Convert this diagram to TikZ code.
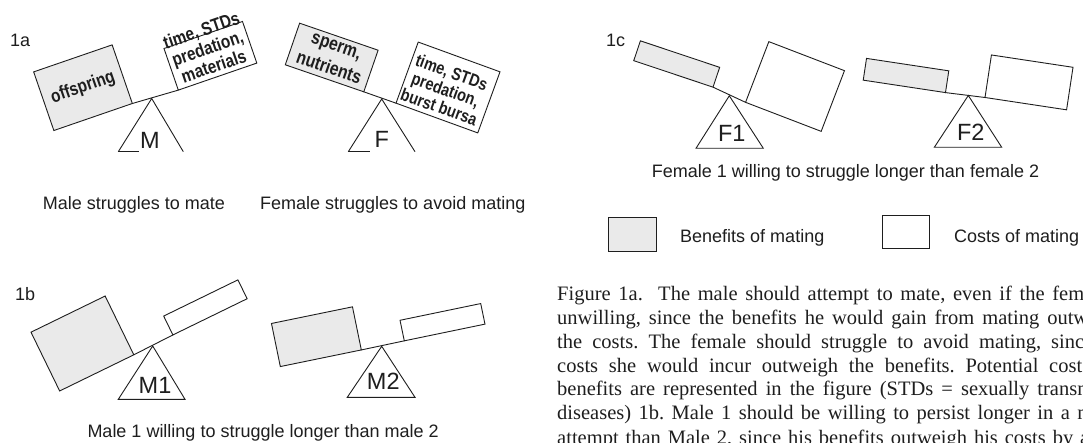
\documentclass[tikz,border=0pt]{standalone}
\usepackage{fontspec}
\setmainfont{Liberation Sans}
\newfontfamily\capfont{Liberation Serif}
\newfontfamily\condfont[FakeStretch=0.83]{Liberation Sans Bold}
\definecolor{ink}{HTML}{1E1E1E}
\definecolor{benefit}{HTML}{EAEAEA}
\frenchspacing
\begin{document}
\begin{tikzpicture}[x=1pt,y=-1pt,
  line join=miter,
  boxb/.style={draw=ink,fill=benefit,line width=0.9pt,inner sep=0pt,outer sep=0pt},
  boxc/.style={draw=ink,fill=white,line width=0.9pt,inner sep=0pt,outer sep=0pt},
  beam/.style={draw=ink,line width=0.9pt},
  lbl/.style={font=\fontsize{23.5}{24}\selectfont,inner sep=0pt,text=ink},
  figtag/.style={font=\fontsize{18}{20}\selectfont,inner sep=0pt,anchor=base west,text=ink},
  capt/.style={font=\fontsize{18}{20}\selectfont,inner sep=0pt,anchor=base west,text=ink},
  inbox/.style={font=\condfont\fontsize{18.5}{19}\selectfont,align=center,inner sep=0pt,text=ink},
  bodyline/.style={font=\capfont\frenchspacing\fontsize{20.5}{23.65}\selectfont,inner sep=0pt,anchor=base west,text=ink}
]
\useasboundingbox (0,0) rectangle (1083,443);
\fill[white] (0,0) rectangle (1083,443);
\clip (0,0) rectangle (1083,443);

% ---------- 1a : M ----------
\node[figtag] (t1a) at (10,47) {1a};
\node[boxb,minimum width=83,minimum height=62,rotate=19] (ma1) at (83,87.7) {};
\node[inbox,rotate=19] (tma1) at (ma1.center) {offspring};
\node[boxc,minimum width=83,minimum height=44,rotate=19] (mb1) at (210.4,55.8) {};
\node[inbox,rotate=19] (tmb1) at (207.5,48) {time, STDs\\predation,\\materials};
\draw[beam] (ma1.south east) -- (mb1.south west);
\coordinate (apM) at (151.7,98.5);
\coordinate (blM) at (118.3,151.7);
\coordinate (brM) at (183.3,151.7);
\coordinate (bmM) at (139,151.7);
\draw[beam] (blM) -- (apM) -- (brM);
\draw[beam] (blM) -- (bmM);
\node[lbl] (lM) at (150,140) {M};
\node[capt] (cM) at (42.7,209.5) {Male struggles to mate};

% ---------- 1a : F ----------
\node[boxb,minimum width=83,minimum height=44,rotate=-19] (fa1) at (331.7,57.5) {};
\node[inbox,font=\condfont\fontsize{19}{23.5}\selectfont,rotate=-19] (tfa1) at (332.5,57.5) {sperm,\\nutrients};
\node[boxc,minimum width=87,minimum height=65,rotate=-20] (fb1) at (448,87.5) {};
\node[inbox,font=\condfont\fontsize{17.5}{18.5}\selectfont,rotate=-20] (tfb1) at (445.5,89.5) {time, STDs\\predation,\\burst bursa};
\draw[beam] (fa1.south east) -- (fb1.south west);
\coordinate (apF) at (381.7,99);
\coordinate (blF) at (348.3,151.7);
\coordinate (brF) at (415,151.7);
\coordinate (bmF) at (370,151.7);
\draw[beam] (blF) -- (apF) -- (brF);
\draw[beam] (blF) -- (bmF);
\node[lbl] (lF) at (381.7,139) {F};
\node[capt] (cF) at (260,209.5) {Female struggles to avoid mating};

% ---------- 1b : M1 ----------
\node[figtag] (t1b) at (15,301) {1b};
\node[boxb,minimum width=82.5,minimum height=65.4,rotate=26] (ma2) at (82.4,343.5) {};
\node[boxc,minimum width=82.6,minimum height=21,rotate=26] (mb2) at (205.4,307.4) {};
\draw[beam] (ma2.south east) -- (mb2.south west);
\coordinate (apM1) at (152.7,346);
\coordinate (blM1) at (118.3,399.3);
\coordinate (brM1) at (185,399.3);
\draw[beam] (apM1) -- (blM1) -- (brM1) -- cycle;
\node[lbl] (lM1) at (155,385) {M1};

% ---------- 1b : M2 ----------
\node[boxb,minimum width=82.7,minimum height=44,rotate=11.6] (ma3) at (316.4,336.7) {};
\node[boxc,minimum width=82.4,minimum height=21,rotate=11.7] (mb3) at (442.5,322.2) {};
\draw[beam] (ma3.south east) -- (mb3.south west);
\coordinate (apM2) at (381.7,346.3);
\coordinate (blM2) at (347.3,397.3);
\coordinate (brM2) at (415,397.3);
\draw[beam] (apM2) -- (blM2) -- (brM2) -- cycle;
\node[lbl] (lM2) at (383.3,381.7) {M2};
\node[capt] (cM12) at (87.3,437.9) {Male 1 willing to struggle longer than male 2};

% ---------- 1c : F1 ----------
\node[figtag] (t1c) at (606,46.7) {1c};
\node[boxb,minimum width=83.6,minimum height=20.9,rotate=-18.5] (fa2) at (676.7,64) {};
\node[boxc,minimum width=81,minimum height=65,rotate=-21] (fb2) at (795,86.5) {};
\draw[beam] (fa2.south east) -- (fb2.south west);
\coordinate (apF1) at (729.3,95.8);
\coordinate (blF1) at (696,148.3);
\coordinate (brF1) at (763.3,148.3);
\draw[beam] (apF1) -- (blF1) -- (brF1) -- cycle;
\node[lbl] (lF1) at (731.7,133.3) {F1};

% ---------- 1c : F2 ----------
\node[boxb,minimum width=83.2,minimum height=22,rotate=-8.6] (fa3) at (906,75.5) {};
\node[boxc,minimum width=82.5,minimum height=43,rotate=-8.6] (fb3) at (1029,82.4) {};
\draw[beam] (fa3.south east) -- (fb3.south west);
\coordinate (apF2) at (968.3,95.5);
\coordinate (blF2) at (934.3,147.3);
\coordinate (brF2) at (1001.7,147.3);
\draw[beam] (apF2) -- (blF2) -- (brF2) -- cycle;
\node[lbl] (lF2) at (970.7,132.7) {F2};
\node[capt] (cF12) at (651.7,177.9) {Female 1 willing to struggle longer than female 2};

% ---------- legend ----------
\node[boxb,minimum width=47.7,minimum height=34.4] (legb) at (632.2,234.5) {};
\node[capt] (legbt) at (680,242.5) {Benefits of mating};
\node[boxc,minimum width=46.7,minimum height=33.3] (legc) at (905.7,231.7) {};
\node[capt] (legct) at (954,242.5) {Costs of mating};

% ---------- caption text ----------
\node[bodyline] (p1) at (557,301) {\makebox[527pt][s]{Figure 1a.\ \ The male should attempt to mate, even if the fem}};
\node[bodyline] (p2) at (557,324.7) {\makebox[531pt][s]{unwilling, since the benefits he would gain from mating outw}};
\node[bodyline] (p3) at (557,348.3) {\makebox[527pt][s]{the costs. The female should struggle to avoid mating, sinc}};
\node[bodyline] (p4) at (557,372) {\makebox[525pt][s]{costs she would incur outweigh the benefits. Potential cost}};
\node[bodyline] (p5) at (557,395.6) {\makebox[536pt][s]{benefits are represented in the figure (STDs = sexually transm}};
\node[bodyline] (p6) at (557,419.3) {\makebox[536pt][s]{diseases) 1b. Male 1 should be willing to persist longer in a m}};
\node[bodyline] (p7) at (557,444) {\makebox[532pt][s]{attempt than Male 2, since his benefits outweigh his costs by a}};
\end{tikzpicture}
\end{document}
